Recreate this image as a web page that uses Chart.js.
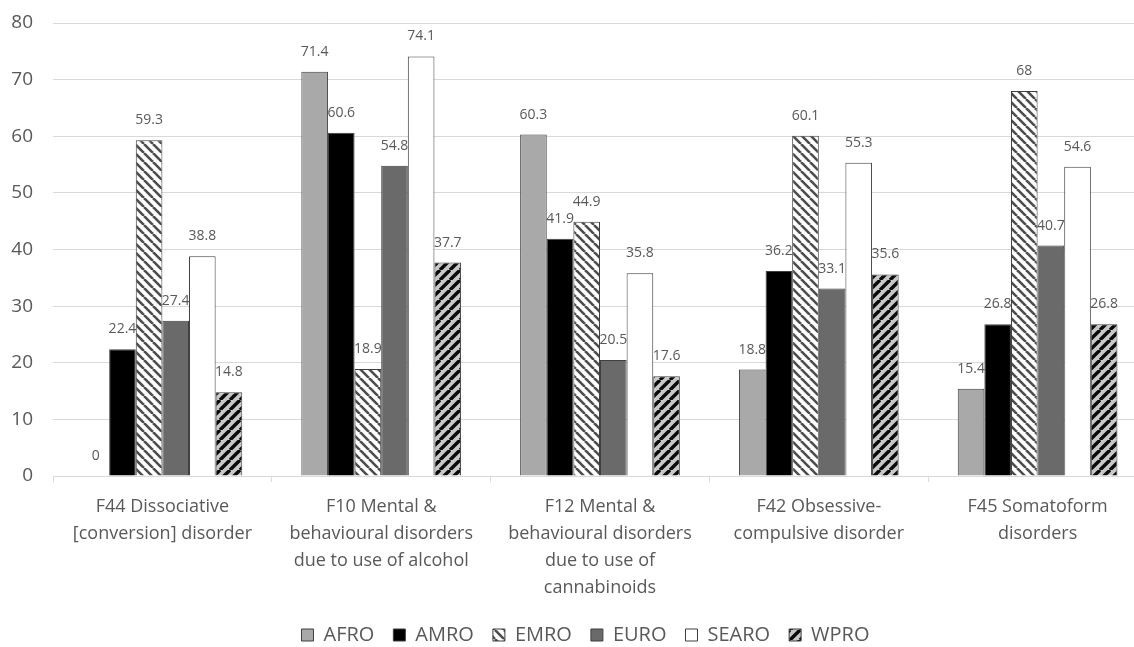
<!DOCTYPE html>
<html>
<head>
<meta charset="utf-8">
<script src="https://cdn.jsdelivr.net/npm/chart.js@4.4.1/dist/chart.umd.min.js"></script>
<style>
  html, body { margin: 0; padding: 0; background: #ffffff; overflow: hidden; }
  #wrap { width: 1160px; height: 655px; }
  canvas { display: block; }
</style>
</head>
<body>
<div id="wrap"><canvas id="chart" width="1160" height="655"></canvas></div>
<script>
// Disorder categories (multi-line axis labels)
const categories = [
  ["F44 Dissociative", "[conversion] disorder"],
  ["F10 Mental &", "behavioural disorders", "due to use of alcohol"],
  ["F12 Mental &", "behavioural disorders", "due to use of", "cannabinoids"],
  ["F42 Obsessive-", "compulsive disorder"],
  ["F45 Somatoform", "disorders"]
];

// Values per WHO region
const afro  = [0, 71.4, 60.3, 18.8, 15.4];
const amro  = [22.4, 60.6, 41.9, 36.2, 26.8];
const emro  = [59.3, 18.9, 44.9, 60.1, 68];
const euro  = [27.4, 54.8, 20.5, 33.1, 40.7];
const searo = [38.8, 74.1, 35.8, 55.3, 54.6];
const wpro  = [14.8, 37.7, 17.6, 35.6, 26.8];

const yTicks = [0, 10, 20, 30, 40, 50, 60, 70, 80];

const FONT = '"Open Sans", "Noto Sans", sans-serif';
const TEXT = '#595959';

// Diagonal hatch fill; dir 'down' draws "\" stripes, 'up' draws "/" stripes
function hatch(bg, fg, width, dir, size) {
  const c = document.createElement('canvas');
  c.width = size; c.height = size;
  const g = c.getContext('2d');
  g.fillStyle = bg;
  g.fillRect(0, 0, size, size);
  g.strokeStyle = fg;
  g.lineWidth = width;
  g.beginPath();
  for (const k of [-size, 0, size]) {
    if (dir === 'down') { g.moveTo(k, 0); g.lineTo(k + size, size); }
    else { g.moveTo(k, size); g.lineTo(k + size, 0); }
  }
  g.stroke();
  return g.createPattern(c, 'repeat');
}

const emroFill = hatch('#ffffff', '#4d4d4d', 2.6, 'down', 9);
const wproFill = hatch('#c8c8c8', '#0a0a0a', 3.4, 'up', 10);

const BORDER = '#3f3f3f';

function series(label, data, fill) {
  return { label, data, backgroundColor: fill, borderColor: BORDER, borderWidth: 1 };
}

// Value printed above each bar
const valueLabels = {
  id: 'valueLabels',
  afterDatasetsDraw(chart) {
    const ctx = chart.ctx;
    ctx.save();
    ctx.font = '14px ' + FONT;
    ctx.fillStyle = TEXT;
    ctx.textAlign = 'center';
    ctx.textBaseline = 'middle';
    chart.data.datasets.forEach((ds, i) => {
      chart.getDatasetMeta(i).data.forEach((bar, j) => {
        ctx.fillText(String(ds.data[j]), bar.x, bar.y - 20);
      });
    });
    ctx.restore();
  }
};

// Nudge the legend row slightly right so it sits under the plot's centre
const legendShift = {
  id: 'legendShift',
  afterLayout(chart) {
    if (chart.legend) {
      chart.legend.left += 12;
      chart.legend.right += 12;
    }
  }
};

new Chart(document.getElementById('chart'), {
  type: 'bar',
  data: {
    labels: categories,
    datasets: [
      series('AFRO', afro, '#a9a9a9'),
      series('AMRO', amro, '#000000'),
      series('EMRO', emro, emroFill),
      series('EURO', euro, '#6a6a6a'),
      series('SEARO', searo, '#ffffff'),
      series('WPRO', wpro, wproFill)
    ]
  },
  options: {
    responsive: false,
    animation: false,
    devicePixelRatio: 1,
    layout: { padding: { top: 23, right: 13, left: 0, bottom: 0 } },
    datasets: { bar: { categoryPercentage: 0.73, barPercentage: 1.0 } },
    plugins: {
      tooltip: { enabled: false },
      legend: {
        position: 'bottom',
        labels: {
          boxWidth: 12,
          boxHeight: 12,
          padding: 19,
          color: TEXT,
          font: { family: FONT, size: 20 }
        }
      }
    },
    scales: {
      x: {
        afterFit(scale) {
          scale.height = 130;
          scale.paddingLeft = 0;
          scale.paddingRight = 0;
          scale.paddingTop = 0;
          scale.paddingBottom = 0;
        },
        grid: {
          display: true,
          drawOnChartArea: false,
          drawTicks: true,
          tickLength: 6,
          color: '#d9d9d9'
        },
        border: { display: true, color: '#d9d9d9', width: 1 },
        ticks: {
          autoSkip: false,
          maxRotation: 0,
          minRotation: 0,
          padding: 11,
          color: TEXT,
          font: { family: FONT, size: 18, lineHeight: 1.5 }
        }
      },
      y: {
        min: 0,
        max: 80,
        afterFit(scale) {
          scale.width = 53;
          scale.paddingTop = 0;
          scale.paddingBottom = 0;
        },
        afterBuildTicks(scale) { scale.ticks = yTicks.map(v => ({ value: v })); },
        grid: { color: '#d9d9d9', lineWidth: 1, drawTicks: false },
        border: { display: false },
        ticks: {
          padding: 20,
          color: TEXT,
          font: { family: FONT, size: 19 }
        }
      }
    }
  },
  plugins: [valueLabels, legendShift]
});
</script>
</body>
</html>
